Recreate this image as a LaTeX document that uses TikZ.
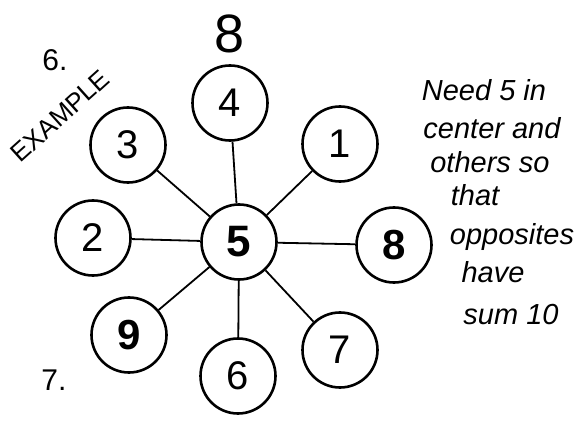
\documentclass[tikz,border=0pt]{standalone}
\usepackage{fontspec}
\setmainfont{Liberation Sans}
\begin{document}
\begin{tikzpicture}[x=1pt,y=-1pt,
  numnode/.style={circle,draw,line width=2.6pt,minimum size=75pt,inner sep=0pt,font=\fontsize{40}{40}\selectfont},
  spoke/.style={line width=1.8pt},
  note/.style={font=\fontsize{29}{29}\selectfont\itshape,inner sep=0pt}]
\useasboundingbox (0,0) rectangle (576,425);
\node[numnode,font=\fontsize{44}{44}\selectfont\bfseries] (c) at (239,242) {5};
\node[numnode] (n4) at (230,103) {4};
\node[numnode] (n1) at (340,144) {1};
\node[numnode,font=\fontsize{42}{42}\selectfont\bfseries] (n8) at (394,245) {8};
\node[numnode] (n7) at (340,350) {7};
\node[numnode] (n6) at (238,376) {6};
\node[numnode,font=\fontsize{42}{42}\selectfont\bfseries] (n9) at (129,335) {9};
\node[numnode] (n2) at (93,238) {2};
\node[numnode] (n3) at (128,145) {3};
\foreach \n in {n4,n1,n8,n7,n6,n9,n2,n3}{\draw[spoke] (c) -- (\n);}
\node[font=\fontsize{54}{54}\selectfont,inner sep=0pt] (top8) at (230,34) {8};
\node[font=\fontsize{30}{30}\selectfont,inner sep=0pt] (six) at (55,60) {6.};
\node[font=\fontsize{26}{26}\selectfont,inner sep=0pt,rotate=42] (ex) at (60,116) {EXAMPLE};
\node[font=\fontsize{30}{30}\selectfont,inner sep=0pt] (seven) at (54,380) {7.};
\node[note] (t1) at (484,90) {Need 5 in};
\node[note] (t2) at (492,128) {center and};
\node[note] (t3) at (490,162) {others so};
\node[note] (t4) at (475,195) {that};
\node[note] (t5) at (512,237) {opposites};
\node[note] (t6) at (493,272) {have};
\node[note] (t7) at (511,315) {sum 10};
\end{tikzpicture}
\end{document}
